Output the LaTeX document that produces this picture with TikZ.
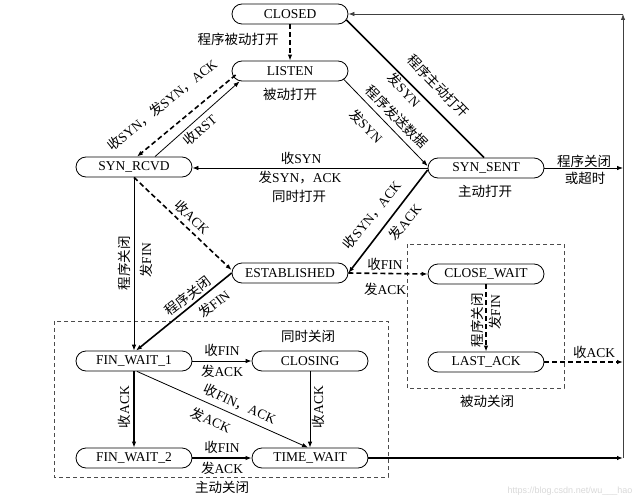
\documentclass[tikz,border=0pt]{standalone}
\usepackage{fontspec}
\setmainfont{Liberation Serif}
\newfontfamily\cjk{Noto Sans CJK SC}
\newfontfamily\wmfont{Liberation Sans}
\newcommand\zh[1]{{\cjk #1}}
\usetikzlibrary{arrows.meta,calc}
\begin{document}
\begin{tikzpicture}[x=1pt,y=-1pt,
  font=\fontsize{13.5}{16}\selectfont,
  >={Latex[length=6pt,width=4.5pt]},
  state/.style={draw, line width=0.8pt, rounded corners=10pt, minimum width=116pt, minimum height=20pt, inner sep=0pt},
  lnthin/.style={line width=0.8pt, ->},
  lnthick/.style={line width=1.6pt, ->},
  lndash/.style={line width=1.6pt, dash pattern=on 5pt off 3pt, ->},
  dashbox/.style={draw=black!70, line width=0.8pt, dash pattern=on 4pt off 3pt},
  lbl/.style={inner sep=0pt}]
\useasboundingbox (0,0) rectangle (642,500);
\fill[white] (0,0) rectangle (642,500);

% dashed boxes
\draw[dashbox] (54,321) rectangle (388,477);
\draw[dashbox] (407,244) rectangle (564,388);

% states
\node[state] (cl) at (290,14) {CLOSED};
\node[state] (li) at (290,71) {LISTEN};
\node[state] (sr) at (134,167) {SYN\_RCVD};
\node[state] (ss) at (486,168) {SYN\_SENT};
\node[state] (es) at (290,273) {ESTABLISHED};
\node[state] (cw) at (486,274) {CLOSE\_WAIT};
\node[state] (la) at (486,362) {LAST\_ACK};
\node[state] (f1) at (134,361) {FIN\_WAIT\_1};
\node[state] (cg) at (310,361) {CLOSING};
\node[state] (f2) at (134,458) {FIN\_WAIT\_2};
\node[state] (tw) at (310,458) {TIME\_WAIT};

% right-hand return path
\coordinate (r0) at (623,14);
\coordinate (r1) at (623,458);
\coordinate (r2) at (623,168);
\coordinate (r3) at (623,362);

% connectors
\draw[lndash] (cl.south) -- (li.north);
\draw[lndash] ($(li.west)+(4,4)$) -- ($(sr.north)+(3,0)$);
\draw[lnthin] ($(sr.north)+(21,0)$) -- ($(li.south west)+(8,0)$);
\draw[lnthick, -] ($(cl.east)+(-2,6)$) -- ($(ss.north)+(-2,0)$);
\draw[lnthin] ($(li.east)+(-5,8)$) -- ($(ss.west)+(0,-2)$);
\draw[lnthin] (ss.west) -- (ss.west -| sr.east);
\draw[lnthick] ($(ss.west)+(0,2)$) -- (es.east);
\draw[lndash] (sr.south) -- ($(es.west)+(0,-3)$);
\draw[lnthin] (sr.south) -- (f1.north);
\draw[lnthick] (es.west) -- ($(f1.north)+(2,0)$);
\draw[lndash] (es.east) -- (cw.west);
\draw[lndash] (cw.south) -- (la.north);
\draw[lndash] (la.east) -- (r3);
\draw[lnthin] (ss.east) -- (r2);
\draw[lnthick] (tw.east) -- (r1);
\draw[lnthin, draw=black!75] (r1) -- (r0);
\draw[lnthin, draw=black!75] (r0) -- (cl.east);
\draw[lnthin] (f1.east) -- (cg.west);
\draw[lnthick] (f1.south) -- (f2.north);
\draw[lnthin] ($(f1.south)+(3,0)$) -- ($(tw.north)+(-2,0)$);
\draw[lnthin] (cg.south) -- (tw.north);
\draw[lnthick] (f2.east) -- (tw.west);

% labels
\node[lbl] (t1) at (238,39) {\zh{程序被动打开}};
\node[lbl] (t2) at (290,94) {\zh{被动打开}};
\node[lbl, rotate=39] (t3) at (162,105) {\zh{收}SYN\zh{，发}SYN\zh{，}ACK};
\node[lbl, rotate=41] (t4) at (200,130) {\zh{收}RST};
\node[lbl, rotate=-46] (t5) at (438,86) {\zh{程序主动打开}};
\node[lbl, rotate=-46] (t6) at (404,90) {\zh{发}SYN};
\node[lbl, rotate=-45] (t7) at (397,117) {\zh{程序发送数据}};
\node[lbl, rotate=-45] (t8) at (366,126) {\zh{发}SYN};
\node[lbl] (t9) at (301,158) {\zh{收}SYN};
\node[lbl] (t10) at (300,178) {\zh{发}SYN\zh{，}ACK};
\node[lbl] (t11) at (299,196) {\zh{同时打开}};
\node[lbl] (t12) at (584,161) {\zh{程序关闭}};
\node[lbl] (t13) at (585,178) {\zh{或超时}};
\node[lbl] (t14) at (485,191) {\zh{主动打开}};
\node[lbl, rotate=-44] (t15) at (192,217) {\zh{收}ACK};
\node[lbl, rotate=51] (t16) at (372,215) {\zh{收}SYN\zh{，}ACK};
\node[lbl, rotate=51] (t17) at (405,222) {\zh{发}ACK};
\node[lbl, rotate=90] (t18) at (124,263) {\zh{程序关闭}};
\node[lbl, rotate=90] (t19) at (146,260) {\zh{发}FIN};
\node[lbl, rotate=38] (t20) at (188,296) {\zh{程序关闭}};
\node[lbl, rotate=38] (t21) at (214,304) {\zh{发}FIN};
\node[lbl] (t22) at (385,264) {\zh{收}FIN};
\node[lbl] (t23) at (385,289) {\zh{发}ACK};
\node[lbl, rotate=90] (t24) at (477,320) {\zh{程序关闭}};
\node[lbl, rotate=90] (t25) at (495,312) {\zh{发}FIN};
\node[lbl] (t26) at (594,352) {\zh{收}ACK};
\node[lbl] (t27) at (487,401) {\zh{被动关闭}};
\node[lbl] (t28) at (308,336) {\zh{同时关闭}};
\node[lbl] (t29) at (222,350) {\zh{收}FIN};
\node[lbl] (t30) at (222,371) {\zh{发}ACK};
\node[lbl, rotate=90] (t31) at (124,407) {\zh{收}ACK};
\node[lbl, rotate=90] (t32) at (318,407) {\zh{收}ACK};
\node[lbl, rotate=-24] (t33) at (240,404) {\zh{收}FIN\zh{，}ACK};
\node[lbl, rotate=-24] (t34) at (211,420) {\zh{发}ACK};
\node[lbl] (t35) at (222,447) {\zh{收}FIN};
\node[lbl] (t36) at (222,468) {\zh{发}ACK};
\node[lbl] (t37) at (222,487) {\zh{主动关闭}};
\node[lbl, font=\wmfont\fontsize{9}{10}\selectfont, text=black!15] (wm) at (570,491) {https://blog.csdn.net/wu\_\_\_hao};
\end{tikzpicture}
\end{document}
